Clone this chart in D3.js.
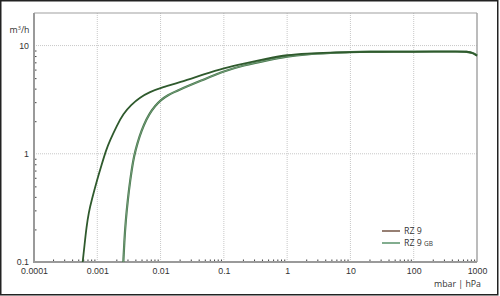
<!DOCTYPE html>
<html>
<head>
<meta charset="utf-8">
<script src="https://cdn.jsdelivr.net/npm/d3@7"></script>
<style>
  body { margin: 0; background: #fff; }
  svg { display: block; font-family: "Open Sans", sans-serif; }
  .axis text { fill: #333; font-size: 8.8px; }
  .axis .domain { display: none; }
</style>
</head>
<body>
<svg id="chart" width="500" height="296"></svg>
<script>
// pressure (mbar) / flow (m3/h)
const rz9P = [0.000588, 0.000628, 0.000675, 0.000734, 0.000816, 0.00099, 0.001165, 0.001373, 0.00159, 0.00201, 0.00258, 0.00341, 0.00473, 0.0068, 0.01, 0.02, 0.05, 0.1, 0.2, 0.5, 1, 2, 5, 10, 20, 50, 100, 200, 500, 700, 850, 1000];
const rz9Q = [0.1, 0.143, 0.21, 0.289, 0.373, 0.57, 0.783, 1.077, 1.331, 1.793, 2.347, 2.83, 3.32, 3.73, 4.06, 4.56, 5.46, 6.2, 6.8, 7.6, 8.2, 8.45, 8.6, 8.7, 8.75, 8.75, 8.75, 8.78, 8.8, 8.8, 8.6, 8.05];
const gbP = [0.00258, 0.00267, 0.00282, 0.00303, 0.00331, 0.00369, 0.00401, 0.00464, 0.00547, 0.00656, 0.00817, 0.0102, 0.0126, 0.02, 0.05, 0.1, 0.2, 0.5, 1, 2, 5, 10, 20, 50, 100, 200, 500, 700, 850, 1000];
const gbQ = [0.1, 0.153, 0.244, 0.373, 0.57, 0.871, 1.077, 1.45, 1.87, 2.31, 2.77, 3.15, 3.46, 3.93, 4.9, 5.8, 6.55, 7.35, 7.95, 8.3, 8.55, 8.72, 8.8, 8.82, 8.82, 8.82, 8.82, 8.78, 8.6, 8.1];

const xTicks = [0.0001, 0.001, 0.01, 0.1, 1, 10, 100, 1000];
const xTickLabels = ["0.0001", "0.001", "0.01", "0.1", "1", "10", "100", "1000"];
const yTicks = [0.1, 1, 10];
const yTickLabels = ["0.1", "1", "10"];
const seriesNames = ["RZ 9", "RZ 9 GB"];

const svg = d3.select("#chart");
const pl = 34, pr = 477, pt = 13, pb = 262;

const x = d3.scaleLog().domain([0.0001, 1000]).range([pl, pr]);
const y = d3.scaleLog().domain([0.1, 20]).range([pb, pt]);

// outer frame
svg.append("rect")
  .attr("x", 0.75).attr("y", 0.75)
  .attr("width", 497).attr("height", 294)
  .attr("fill", "none").attr("stroke", "#222").attr("stroke-width", 1.5);

// grid
svg.append("g").selectAll("line")
  .data(xTicks.slice(1, -1))
  .join("line")
  .attr("x1", d => x(d)).attr("x2", d => x(d))
  .attr("y1", pt).attr("y2", pb)
  .attr("stroke", "#c8c8c8").attr("stroke-dasharray", "1,1");
svg.append("g").selectAll("line")
  .data([1, 10])
  .join("line")
  .attr("x1", pl).attr("x2", pr)
  .attr("y1", d => y(d)).attr("y2", d => y(d))
  .attr("stroke", "#c8c8c8").attr("stroke-dasharray", "1,1");

// minor ticks
let xMinor = [];
for (let e = -4; e < 3; e++) for (let m = 2; m <= 9; m++) xMinor.push(m * Math.pow(10, e));
let yMinor = [];
for (let e = -1; e < 1; e++) for (let m = 2; m <= 9; m++) yMinor.push(m * Math.pow(10, e));

svg.append("g")
  .attr("class", "axis")
  .attr("transform", "translate(0," + pb + ")")
  .call(d3.axisTop(x).tickValues(xMinor).tickSize(2.5).tickFormat(""))
  .selectAll(".tick line").attr("stroke", "#444");
svg.append("g")
  .attr("class", "axis")
  .attr("transform", "translate(" + pl + ",0)")
  .call(d3.axisRight(y).tickValues(yMinor).tickSize(2.5).tickFormat(""))
  .selectAll(".tick line").attr("stroke", "#444");

// plot frame
svg.append("line").attr("x1", pl).attr("x2", pr).attr("y1", pt).attr("y2", pt)
  .attr("stroke", "#a0a0a0").attr("stroke-width", 1.2);
svg.append("line").attr("x1", pr).attr("x2", pr).attr("y1", pt).attr("y2", pb)
  .attr("stroke", "#a0a0a0").attr("stroke-width", 1.4);
svg.append("line").attr("x1", pl).attr("x2", pl).attr("y1", pt).attr("y2", pb + 1)
  .attr("stroke", "#9a9a9a").attr("stroke-width", 2);
svg.append("line").attr("x1", pl - 1).attr("x2", pr).attr("y1", pb).attr("y2", pb)
  .attr("stroke", "#9a9a9a").attr("stroke-width", 2);

// labels
svg.append("g")
  .attr("class", "axis")
  .attr("transform", "translate(0," + pb + ")")
  .call(d3.axisBottom(x).tickValues(xTicks).tickSize(0).tickPadding(6)
    .tickFormat((d, i) => xTickLabels[i]));
svg.append("g")
  .attr("class", "axis")
  .attr("transform", "translate(" + pl + ",0)")
  .call(d3.axisLeft(y).tickValues(yTicks).tickSize(0).tickPadding(5)
    .tickFormat((d, i) => yTickLabels[i]));

svg.append("text")
  .attr("x", 29.5).attr("y", 33)
  .attr("text-anchor", "end")
  .attr("fill", "#333").attr("font-size", 8.8)
  .html("m<tspan font-size='5.5' dy='-3'>3</tspan><tspan dy='3'>/h</tspan>");
svg.append("text")
  .attr("x", 481).attr("y", 287)
  .attr("text-anchor", "end")
  .attr("fill", "#333").attr("font-size", 8.8)
  .text("mbar | hPa");

// curves
const line = d3.line().x(d => x(d[0])).y(d => y(d[1])).curve(d3.curveBasis);
const gbData = gbP.map((p, i) => [p, gbQ[i]]);
const rzData = rz9P.map((p, i) => [p, rz9Q[i]]);

svg.append("path").datum(gbData).attr("d", line)
  .attr("fill", "none").attr("stroke", "#46784c").attr("stroke-width", 2.2);
svg.append("path").datum(gbData).attr("d", line)
  .attr("fill", "none").attr("stroke", "#9cbba0").attr("stroke-width", 0.5);
svg.append("path").datum(rzData).attr("d", line)
  .attr("fill", "none").attr("stroke", "#2f5a2d").attr("stroke-width", 1.8);

// legend
const legendColors = ["#5e3a28", "#3f8052"];
const lg = svg.append("g");
seriesNames.forEach((name, i) => {
  const ly = 231 + i * 12;
  lg.append("line").attr("x1", 382).attr("x2", 400).attr("y1", ly).attr("y2", ly)
    .attr("stroke", legendColors[i]).attr("stroke-width", 1.3);
  const t = lg.append("text").attr("x", 404).attr("y", ly + 3)
    .attr("fill", "#333").attr("font-size", 8.8);
  if (name.endsWith("GB")) {
    t.text("RZ 9 ");
    t.append("tspan").attr("font-size", 6.5).text("GB");
  } else {
    t.text(name);
  }
});
</script>
</body>
</html>
